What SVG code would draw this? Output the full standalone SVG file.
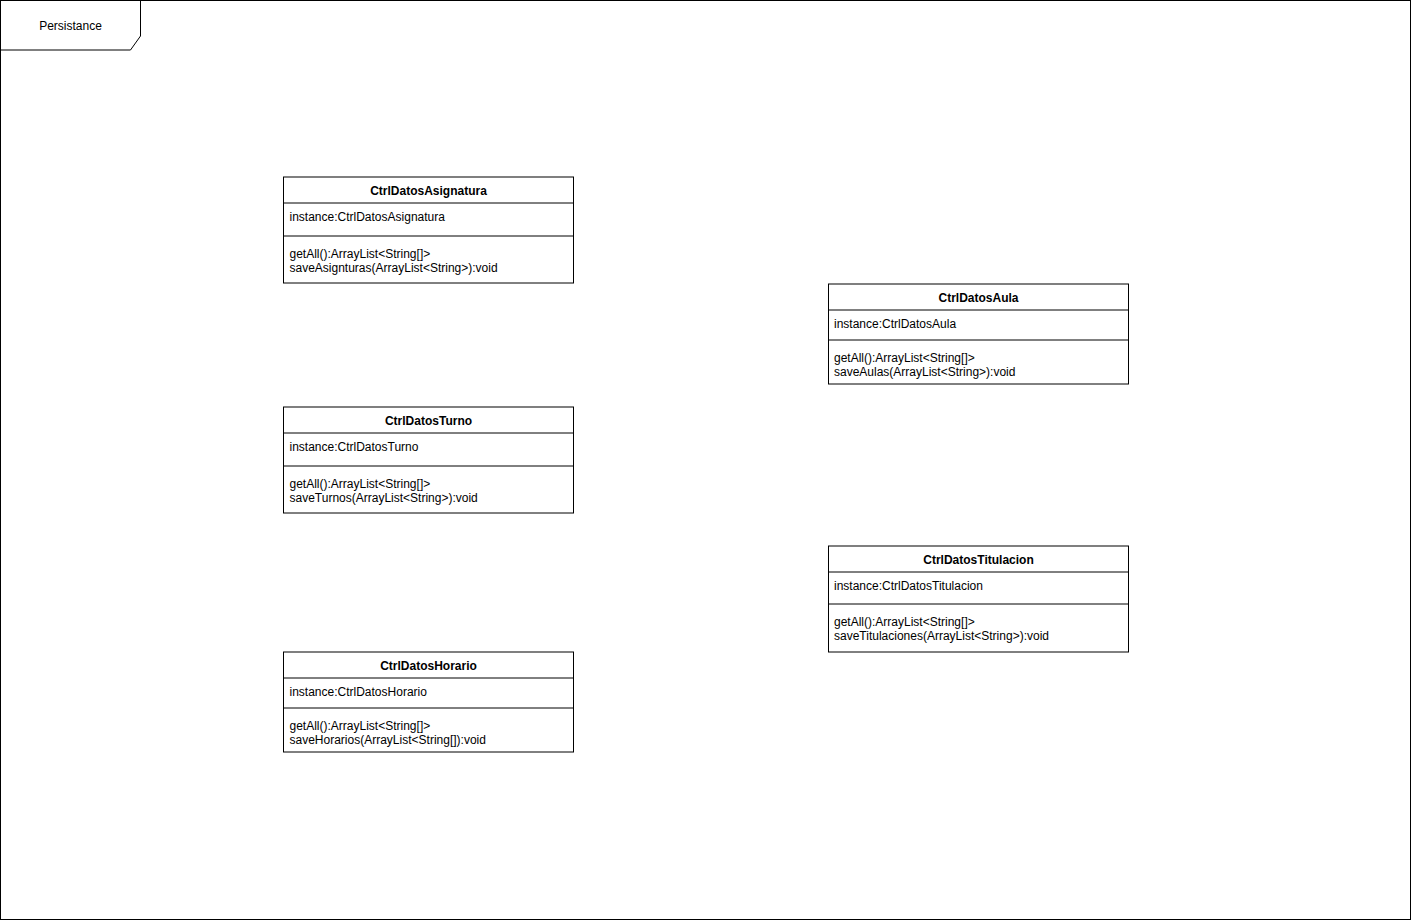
<svg xmlns="http://www.w3.org/2000/svg" width="1411" height="921" viewBox="0 0 1411 921">
<style>
  .frame { fill: none; stroke: #000; stroke-width: 1; }
  .box { fill: #fff; stroke: #000; stroke-width: 1; }
  .sep { stroke: #000; stroke-width: 1; }
  text { font-family: "Liberation Sans", Arial, Helvetica, sans-serif; font-size: 12px; fill: #000; }
  .title { font-weight: bold; text-anchor: middle; }
  .mid { text-anchor: middle; }
</style>
<rect x="0" y="0" width="1411" height="921" fill="#fff"/>
<g id="frame">
  <rect class="frame" x="0.5" y="0.5" width="1410" height="919"/>
  <polygon class="frame" points="0.5,0.5 140.5,0.5 140.5,36 130.5,50 0.5,50"/>
  <text class="mid" x="70.5" y="29.5">Persistance</text>
</g>
<g id="connectors"></g>
<g id="CtrlDatosAsignatura">
  <rect class="box" x="283.5" y="177" width="290" height="106"/>
  <line class="sep" x1="283.5" y1="203" x2="573.5" y2="203"/>
  <line class="sep" x1="283.5" y1="236" x2="573.5" y2="236"/>
  <text class="title" x="428.5" y="194.5">CtrlDatosAsignatura</text>
  <text x="289.5" y="220.5">instance:CtrlDatosAsignatura</text>
  <text x="289.5" y="257.5">getAll():ArrayList&lt;String[]&gt;</text>
  <text x="289.5" y="271.5">saveAsignturas(ArrayList&lt;String&gt;):void</text>
</g>
<g id="CtrlDatosAula">
  <rect class="box" x="828.5" y="284" width="300" height="100"/>
  <line class="sep" x1="828.5" y1="310" x2="1128.5" y2="310"/>
  <line class="sep" x1="828.5" y1="340" x2="1128.5" y2="340"/>
  <text class="title" x="978.5" y="301.5">CtrlDatosAula</text>
  <text x="834" y="327.5">instance:CtrlDatosAula</text>
  <text x="834" y="361.5">getAll():ArrayList&lt;String[]&gt;</text>
  <text x="834" y="375.5">saveAulas(ArrayList&lt;String&gt;):void</text>
</g>
<g id="CtrlDatosTurno">
  <rect class="box" x="283.5" y="407" width="290" height="106"/>
  <line class="sep" x1="283.5" y1="433" x2="573.5" y2="433"/>
  <line class="sep" x1="283.5" y1="466" x2="573.5" y2="466"/>
  <text class="title" x="428.5" y="424.5">CtrlDatosTurno</text>
  <text x="289.5" y="450.5">instance:CtrlDatosTurno</text>
  <text x="289.5" y="487.5">getAll():ArrayList&lt;String[]&gt;</text>
  <text x="289.5" y="501.5">saveTurnos(ArrayList&lt;String&gt;):void</text>
</g>
<g id="CtrlDatosTitulacion">
  <rect class="box" x="828.5" y="546" width="300" height="106"/>
  <line class="sep" x1="828.5" y1="572" x2="1128.5" y2="572"/>
  <line class="sep" x1="828.5" y1="604" x2="1128.5" y2="604"/>
  <text class="title" x="978.5" y="563.5">CtrlDatosTitulacion</text>
  <text x="834" y="589.5">instance:CtrlDatosTitulacion</text>
  <text x="834" y="625.5">getAll():ArrayList&lt;String[]&gt;</text>
  <text x="834" y="639.5">saveTitulaciones(ArrayList&lt;String&gt;):void</text>
</g>
<g id="CtrlDatosHorario">
  <rect class="box" x="283.5" y="652" width="290" height="100"/>
  <line class="sep" x1="283.5" y1="678" x2="573.5" y2="678"/>
  <line class="sep" x1="283.5" y1="708" x2="573.5" y2="708"/>
  <text class="title" x="428.5" y="669.5">CtrlDatosHorario</text>
  <text x="289.5" y="695.5">instance:CtrlDatosHorario</text>
  <text x="289.5" y="729.5">getAll():ArrayList&lt;String[]&gt;</text>
  <text x="289.5" y="743.5">saveHorarios(ArrayList&lt;String[]):void</text>
</g>
</svg>
